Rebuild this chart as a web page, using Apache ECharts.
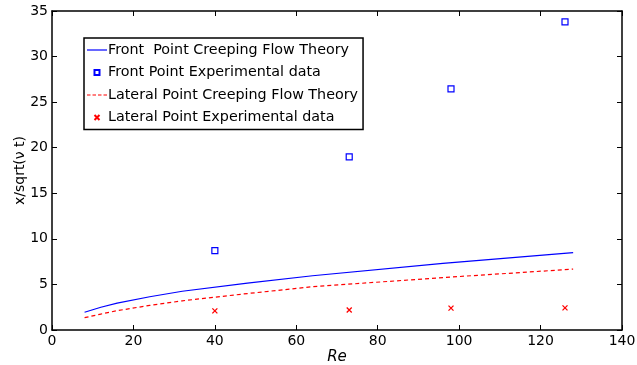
<!DOCTYPE html>
<html><head><meta charset="utf-8">
<script src="https://cdn.jsdelivr.net/npm/echarts@6/dist/echarts.min.js"></script>
<style>html,body{margin:0;padding:0;background:#fff}#c{width:637px;height:365px}</style>
</head><body><div id="c"></div>
<script>
var xTicks = [0, 20, 40, 60, 80, 100, 120, 140];
var yTicks = [0, 5, 10, 15, 20, 25, 30, 35];
var theoryRe = [8, 12, 16, 24, 32, 48, 64, 96, 128];
var frontTheory = [1.95, 2.5, 2.95, 3.65, 4.25, 5.15, 5.95, 7.3, 8.5];
var lateralTheory = [1.35, 1.75, 2.12, 2.7, 3.2, 4.0, 4.75, 5.75, 6.68];
var expRe = [40, 73, 98, 126];
var frontExp = [8.7, 19.0, 26.45, 33.8];
var lateralExp = [2.1, 2.2, 2.4, 2.43];
var names = ['Front  Point Creeping Flow Theory', 'Front Point Experimental data',
             'Lateral Point Creeping Flow Theory', 'Lateral Point Experimental data'];

function pairs(xs, ys) { return xs.map(function (x, i) { return [x, ys[i]]; }); }
var FONT = 'DejaVu Sans';
var xMark = 'path://M0,0L10,10M10,0L0,10';
var sqMark = 'path://M0,0L10,0L10,10L0,10Z';
var solidIcon = 'path://M0,0h20v1.2h-20z';
var dashIcon = 'path://M0,0h3.5v1.2h-3.5zM5.5,0h3.5v1.2h-3.5zM11,0h3.5v1.2h-3.5zM16.5,0h3.5v1.2h-3.5z';
var chart = echarts.init(document.getElementById('c'), null, {renderer: 'canvas'});
function axisCommon(extra) {
  return Object.assign({
    min: 0,
    axisLine: {onZero: false, lineStyle: {color: '#000', width: 1.5}},
    axisTick: {inside: true, length: 5, lineStyle: {color: '#000', width: 1}},
    splitLine: {show: false}
  }, extra);
}
chart.setOption({
  animation: false,
  grid: {left: 52, top: 11, right: 15, bottom: 35, show: false, containLabel: false, outerBoundsMode: 'none'},
  xAxis: [
    axisCommon({type: 'value', max: 140, interval: 20, position: 'bottom',
      name: 'Re', nameLocation: 'middle', nameGap: 20, nameMoveOverlap: false,
      nameTextStyle: {fontFamily: FONT, fontSize: 15, fontStyle: 'italic', color: '#000'},
      axisLabel: {fontFamily: FONT, fontSize: 14, color: '#000', margin: 4}}),
    axisCommon({type: 'value', max: 140, interval: 20, position: 'top',
      axisLabel: {show: false}})
  ],
  yAxis: [
    axisCommon({type: 'value', max: 35, interval: 5, position: 'left',
      name: 'x/sqrt(ν t)', nameLocation: 'middle', nameGap: 25, nameRotate: 90, nameMoveOverlap: false,
      nameTextStyle: {fontFamily: FONT, fontSize: 14, color: '#000'},
      axisLabel: {fontFamily: FONT, fontSize: 14, color: '#000', margin: 4}}),
    axisCommon({type: 'value', max: 35, interval: 5, position: 'right',
      axisLabel: {show: false}})
  ],
  legend: {
    orient: 'vertical', left: 84, top: 38,
    backgroundColor: '#fff', borderColor: '#000', borderWidth: 1.5, borderRadius: 0,
    padding: [4, 5, 4, 3], itemGap: 6.5, itemWidth: 20, itemHeight: 5,
    textStyle: {fontFamily: FONT, fontSize: 14.3, color: '#000', lineHeight: 16, padding: [0, 0, 0, -4]},
    data: [
      {name: names[0], icon: solidIcon, itemStyle: {color: '#0000ff', borderWidth: 0}},
      {name: names[1], icon: sqMark},
      {name: names[2], icon: dashIcon, itemStyle: {color: '#ff0000', borderWidth: 0}},
      {name: names[3], icon: xMark}
    ]
  },
  series: [
    {name: names[0], type: 'line', data: pairs(theoryRe, frontTheory), showSymbol: false,
     symbol: 'none', lineStyle: {color: '#0000ff', width: 1.2}, itemStyle: {color: '#0000ff'}},
    {name: names[1], type: 'scatter', data: pairs(expRe, frontExp), symbol: 'rect', symbolSize: 6,
     itemStyle: {color: '#fff', borderColor: '#0000ff', borderWidth: 1.2, opacity: 1}},
    {name: names[2], type: 'line', data: pairs(theoryRe, lateralTheory), showSymbol: false,
     symbol: 'none', lineStyle: {color: '#ff0000', width: 1.2, type: [4, 3]}, itemStyle: {color: '#ff0000'}},
    {name: names[3], type: 'scatter', data: pairs(expRe, lateralExp), symbol: xMark, symbolSize: 5,
     itemStyle: {color: 'none', borderColor: '#ff0000', borderWidth: 1.3, opacity: 1}}
  ]
});
</script></body></html>
